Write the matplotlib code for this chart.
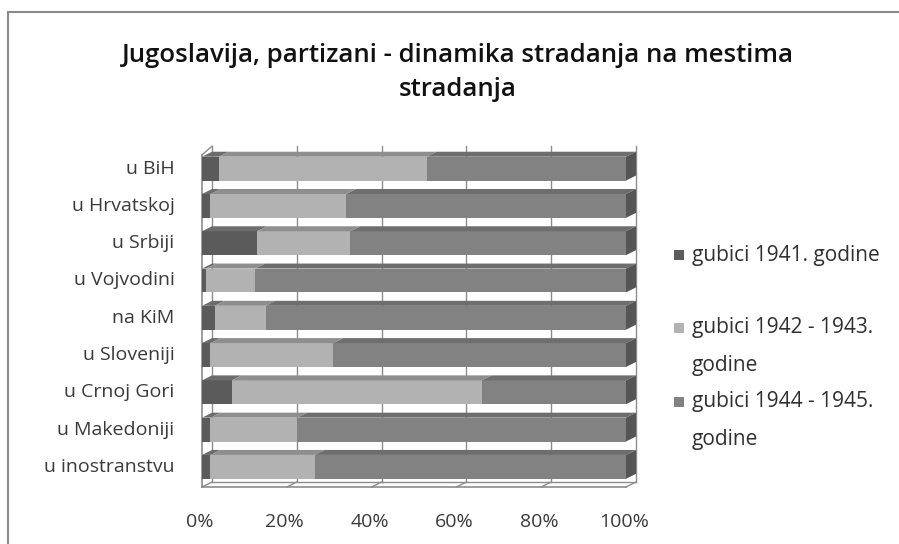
import numpy as np
import matplotlib
matplotlib.use("Agg")
from matplotlib import pyplot as plt
from matplotlib.patches import Polygon, Rectangle
from matplotlib.lines import Line2D

# regions, top to bottom
regions = ["u BiH", "u Hrvatskoj", "u Srbiji", "u Vojvodini", "na KiM",
           "u Sloveniji", "u Crnoj Gori", "u Makedoniji", "u inostranstvu"]

# shares in percent
loss_1941 = [4, 2, 13, 1, 3, 2, 7, 2, 2]
loss_1942_43 = [49, 32, 22, 11.5, 12, 29, 59, 20.5, 24.6]
loss_1944_45 = [47, 66, 65, 87.5, 85, 69, 34, 77.5, 73.4]

series_names = ["gubici 1941. godine", "gubici 1942 - 1943.\ngodine",
                "gubici 1944 - 1945.\ngodine"]
xticks = [0, 20, 40, 60, 80, 100]

front = ["#5b5b5b", "#b2b2b2", "#828282"]
top = ["#6c6c6c", "#8e8e8e", "#6e6e6e"]
side = "#555555"

W, H = 899, 544
fig = plt.figure(figsize=(W / 100, H / 100), dpi=100)

# chart area border (only left and top visible)
fig.add_artist(Line2D([8 / W, 8 / W], [0, 1 - 12 / H], color="#8a8a8a", lw=1.5))
fig.add_artist(Line2D([8 / W, 1], [1 - 12 / H, 1 - 12 / H], color="#8a8a8a", lw=1.5))

fig.text(458 / W, 1 - 55 / H, "Jugoslavija, partizani - dinamika stradanja na mestima",
         ha="center", va="center", fontsize=18.5, family="Open Sans", fontweight="semibold",
         color="#111111")
fig.text(458 / W, 1 - 90 / H, "stradanja",
         ha="center", va="center", fontsize=18.5, family="Open Sans", fontweight="semibold",
         color="#111111")

# axes: front face 0% at 202px, 100% at 626px; floor front at 487px
x0, x1 = 202, 626
ytop, ybot = 150, 487
ax = fig.add_axes([x0 / W, 1 - ybot / H, (x1 - x0) / W, (ybot - ytop) / H])
ax.set_xlim(0, 100)
ax.set_ylim(8.54, -0.5)
ax.axis("off")

dx = 10 / ((x1 - x0) / 100)   # depth offset in data units
dy = -5 / 37.3
bh = 0.64
n = len(regions)
ymin, ymax = ax.get_ylim()[1], ax.get_ylim()[0]

# back wall gridlines
for t in xticks:
    ax.plot([t + dx, t + dx], [ymin - 0.1, ymax + dy], color="#8c8c8c", lw=1, clip_on=False, zorder=1)
# left wall
ax.plot([0, 0], [ymin + 0.13, ymax], color="#8c8c8c", lw=1.2, clip_on=False, zorder=1)
ax.plot([0, dx], [ymin + 0.13, ymin - 0.1], color="#8c8c8c", lw=1, clip_on=False, zorder=1)
# floor
ax.plot([0, 100], [ymax, ymax], color="#8c8c8c", lw=1.2, clip_on=False, zorder=1)
ax.plot([dx, 100 + dx], [ymax + dy, ymax + dy], color="#8c8c8c", lw=1, clip_on=False, zorder=1)
for t in xticks:
    ax.plot([t, t + dx], [ymax, ymax + dy], color="#8c8c8c", lw=1, clip_on=False, zorder=1)

data = np.array([loss_1941, loss_1942_43, loss_1944_45], dtype=float)
data = data / data.sum(axis=0) * 100
for i in range(n):
    c = i
    left = 0
    for s in range(3):
        w = data[s, i]
        ytop_bar = c - bh / 2
        ax.add_patch(Rectangle((left, ytop_bar), w, bh, facecolor=front[s],
                               edgecolor="none", zorder=3, clip_on=False))
        ax.add_patch(Polygon([(left, ytop_bar), (left + w, ytop_bar),
                              (left + w + dx, ytop_bar + dy), (left + dx, ytop_bar + dy)],
                             facecolor=top[s], edgecolor="none", zorder=3, clip_on=False))
        left += w
    ax.add_patch(Polygon([(100, c - bh / 2), (100 + dx, c - bh / 2 + dy),
                          (100 + dx, c + bh / 2 + dy), (100, c + bh / 2)],
                         facecolor=side, edgecolor="none", zorder=3, clip_on=False))
    ax.text(-6.5, c, regions[i], ha="right", va="center", fontsize=14,
            family="Open Sans", color="#3a3a3a")

for t in xticks:
    ax.text(t - 0.5, ymax + 0.95, f"{t}%", ha="center", va="center", fontsize=14,
            family="Open Sans", color="#3a3a3a")

# legend
leg_y = [255, 328, 402]
for s in range(3):
    lines = series_names[s].split("\n")
    y0 = leg_y[s]
    fig.add_artist(Rectangle((674 / W, 1 - (y0 + 5) / H), 10 / W, 10 / H,
                             facecolor=front[s], edgecolor="none"))
    for k, line in enumerate(lines):
        fig.text(692 / W, 1 - (y0 + 37 * k) / H, line, ha="left", va="center",
                 fontsize=15, family="Open Sans", color="#303030")

fig.savefig("out.png", dpi=100)
